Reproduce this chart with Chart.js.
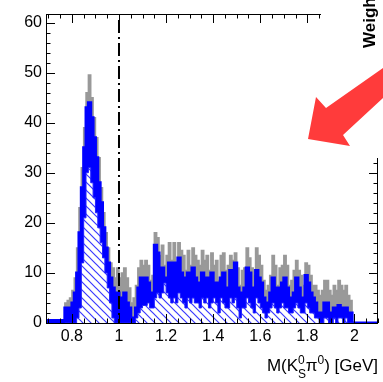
<!DOCTYPE html>
<html>
<head>
<meta charset="utf-8">
<script src="https://cdn.jsdelivr.net/npm/chart.js@4"></script>
<style>
  html, body { margin: 0; padding: 0; background: #fff; }
  #wrap { width: 383px; height: 382px; position: relative; }
</style>
</head>
<body>
<div id="wrap"><canvas id="myChart" width="383" height="382"></canvas></div>
<script>
// bins of 0.01 GeV starting at 0.77
const binLow = 0.77;
const binWidth = 0.01;

// gray: top histogram
const grayVals = [
  1, 4, 4.5, 5, 6.5, 9, 15, 23, 31, 39, 46, 49.5, 45, 41, 37, 33, 27, 22, 18, 15, 12, 11, 9,
  11, 9, 10, 11, 9, 7, 4, 5, 7.5, 11,
  12.5, 11.5, 12.5, 11.5, 8.5, 9.5, 18, 17, 13.5, 15.5,
  11.5, 13.5, 16, 12.5, 16, 11.5, 16, 14.5, 13.5, 10.5,
  14.5, 11.5, 15, 13.5, 12.5, 11.5, 14.5, 12.5, 13.5, 10.5,
  14, 11.5, 12.5, 8.5, 13.5, 14, 10.5, 11.5, 13.5, 12.5,
  14, 11, 7.5, 10.5, 11, 15, 13, 11, 9.5, 15,
  13.5, 11.5, 8.5, 6.5, 7.5, 9.5, 13.5, 11.5, 7.5, 11,
  11.5, 13.5, 11.5, 7.5, 8.5, 10.5, 12.5, 10.5, 9.5, 7.5,
  12, 11.5, 9.5, 7.5, 7.5, 6.5, 5.5, 6.5, 8.5, 8.5,
  6.5, 5.5, 7.5, 6.5, 8.5, 7.5, 6.5, 7.5, 5.5, 4.5
];
// blue: band top
const blueVals = [
  0.5, 3, 3, 3, 4, 6, 10, 18, 27, 35, 43, 44, 41, 37, 33, 28, 24, 19, 15, 12, 9, 7, 6,
  6, 4, 5, 6, 4, 3, 1, 1, 3, 7,
  9, 8, 9, 8, 5, 6, 15.5, 14, 10, 11,
  8, 9, 12, 8, 12, 7, 13, 10, 9, 6,
  10, 8, 11, 9, 8, 7, 10, 8, 9, 7,
  10, 8, 8, 5, 9, 10, 7, 7, 10.5, 8,
  12, 7, 3.5, 6, 7, 11, 10, 7, 6, 10.5,
  9, 8, 5, 3.5, 4, 6, 9, 7, 4, 7,
  8, 9, 7, 4, 5, 6, 9, 7, 5, 4,
  9.5, 8, 6, 5, 4, 2, 2, 2, 4, 4,
  2, 1, 3, 2, 3.5, 3, 3, 3, 2, 2
];
// hatched component
const hatchVals = [
  0, 0, 0, 0, 0, 0, 1, 3, 12, 21, 30, 31, 28, 25, 22, 19, 16, 13, 10, 7, 4, 1, 0,
  0, 0, 0, 0, 0, 0, 0, 0, 1, 2,
  3, 3.5, 3.5, 4, 3, 3, 5, 6, 5, 6,
  8, 6, 5, 4, 5, 4, 6, 5, 4, 3,
  5, 4, 5, 4, 4, 3, 5, 4, 5, 3,
  4, 5, 4, 2, 5, 4, 3, 3, 5, 4,
  5, 3, 1, 3, 3, 5, 4, 3, 2, 5,
  4, 3, 2, 1, 2, 3, 4, 3, 2, 3,
  4, 3, 3, 2, 2, 3, 4, 3, 2, 2,
  4, 3, 2, 2, 1, 1, 0, 0, 1, 1,
  0, 0, 1, 0, 1, 1, 0, 1, 0, 0
];

const yTicks = [0, 10, 20, 30, 40, 50, 60];
const xTicks = [0.8, 1.0, 1.2, 1.4, 1.6, 1.8, 2.0];
const xMin = 0.69, xMax = 2.1, yMax = 61.7;

function steps(vals, padLeft, padRight) {
  const pts = [];
  if (padLeft) pts.push({ x: xMin, y: 0 });
  for (let i = 0; i < vals.length; i++) {
    pts.push({ x: +(binLow + i * binWidth).toFixed(3), y: vals[i] });
  }
  const end = +(binLow + vals.length * binWidth).toFixed(3);
  pts.push({ x: end, y: 0 });
  if (padRight) pts.push({ x: xMax, y: 0 });
  return pts;
}

// hatch pattern
const pc = document.createElement('canvas');
pc.width = 8; pc.height = 8;
const px = pc.getContext('2d');
px.fillStyle = '#ffffff';
px.fillRect(0, 0, 8, 8);
px.strokeStyle = '#3a3aff';
px.lineWidth = 1.2;
px.beginPath();
px.moveTo(-1, -1); px.lineTo(9, 9);
px.moveTo(-1, 7); px.lineTo(1, 9);
px.moveTo(7, -1); px.lineTo(9, 1);
px.stroke();
const hatch = px.createPattern(pc, 'repeat');

const FONT = "'Liberation Sans', Arial, Helvetica, sans-serif";

const decor = {
  id: 'decor',
  afterDatasetsDraw(chart) {
    const ctx = chart.ctx;
    const xs = chart.scales.x, ys = chart.scales.y;
    const a = chart.chartArea;
    ctx.save();
    // dash-dot line at 1 GeV
    const x1 = xs.getPixelForValue(1.0);
    ctx.strokeStyle = '#000';
    ctx.lineWidth = 2;
    ctx.setLineDash([13, 4, 2, 4]);
    ctx.beginPath();
    ctx.moveTo(x1, a.top + 6);
    ctx.lineTo(x1, a.bottom);
    ctx.stroke();
    ctx.setLineDash([]);

    // frame
    ctx.lineWidth = 1;
    ctx.strokeRect(a.left + 0.5, a.top + 0.5, a.right - a.left - 1, a.bottom - a.top);

    // y ticks
    for (let v = 0; v <= 60; v += 2) {
      const y = Math.round(ys.getPixelForValue(v)) + 0.5;
      const len = v % 10 === 0 ? 9 : 4.5;
      ctx.beginPath();
      ctx.moveTo(a.left, y); ctx.lineTo(a.left + len, y);
      ctx.moveTo(a.right, y); ctx.lineTo(a.right - len, y);
      ctx.stroke();
    }
    // x ticks
    for (let i = 0; i <= 28; i++) {
      const v = 0.7 + i * 0.05;
      const x = Math.round(xs.getPixelForValue(v)) + 0.5;
      const major = Math.abs(v * 5 - Math.round(v * 5)) < 1e-6;
      const len = major ? 9 : 4.5;
      ctx.beginPath();
      ctx.moveTo(x, a.bottom); ctx.lineTo(x, a.bottom - len);
      ctx.moveTo(x, a.top); ctx.lineTo(x, a.top + len);
      ctx.stroke();
    }

    // overlapping panel in the corner
    ctx.fillStyle = '#fff';
    ctx.fillRect(321, 0, 62, 158);
    ctx.save();
    ctx.translate(375, 48);
    ctx.rotate(-Math.PI / 2);
    ctx.fillStyle = '#000';
    ctx.font = 'bold 17px ' + FONT;
    ctx.textBaseline = 'alphabetic';
    ctx.fillText('Weigh', 0, 0);
    ctx.restore();

    // red arrow
    ctx.fillStyle = '#ff3b3b';
    ctx.beginPath();
    ctx.moveTo(308, 139);
    ctx.lineTo(316, 97);
    ctx.lineTo(326, 108);
    ctx.lineTo(383, 68);
    ctx.lineTo(383, 98);
    ctx.lineTo(343, 135);
    ctx.lineTo(350, 146);
    ctx.closePath();
    ctx.fill();

    // axis title M(K_S^0 pi^0) [GeV]
    ctx.fillStyle = '#000';
    ctx.textBaseline = 'alphabetic';
    const big = '17px ' + FONT, small = '12px ' + FONT;
    const base = 371;
    const parts = [
      ['M(K', big, 0], ['0', small, -7, 'S'], ['π', big, 0], ['0', small, -7], [') [GeV]', big, 0]
    ];
    let w = 0;
    parts.forEach(p => { ctx.font = p[1]; w += ctx.measureText(p[0]).width + (p[3] ? 1 : 0); });
    let cx = 378 - w;
    parts.forEach(p => {
      ctx.font = p[1];
      ctx.fillText(p[0], cx, base + p[2]);
      if (p[3]) ctx.fillText(p[3], cx, base + 7);
      cx += ctx.measureText(p[0]).width + (p[3] ? 1 : 0);
    });
    ctx.restore();
  }
};

new Chart('myChart', {
  type: 'line',
  data: {
    datasets: [
      {
        data: steps(hatchVals, false, false),
        stepped: 'after',
        borderColor: '#2020ff',
        borderWidth: 1,
        backgroundColor: hatch,
        fill: 'origin',
        pointRadius: 0,
        order: 1
      },
      {
        data: steps(blueVals, true, true),
        stepped: 'after',
        borderColor: '#0000ff',
        borderWidth: 3,
        backgroundColor: '#0000ff',
        fill: 'origin',
        pointRadius: 0,
        order: 2
      },
      {
        data: steps(grayVals, false, false),
        stepped: 'after',
        borderColor: '#999999',
        borderWidth: 1.5,
        backgroundColor: '#999999',
        fill: 'origin',
        pointRadius: 0,
        order: 3
      }
    ]
  },
  options: {
    responsive: false,
    animation: false,
    layout: { padding: { left: 0, top: 14, right: 5, bottom: 0 } },
    plugins: { legend: { display: false }, tooltip: { enabled: false } },
    scales: {
      x: {
        type: 'linear',
        min: xMin, max: xMax,
        grid: { display: false, drawTicks: false },
        border: { display: false },
        afterBuildTicks: s => { s.ticks = xTicks.map(v => ({ value: v })); },
        afterFit: s => { s.height = 59; },
        ticks: {
          padding: 4,
          color: '#000',
          font: { family: FONT, size: 16 },
          maxRotation: 0,
          callback: v => String(+v.toFixed(1))
        }
      },
      y: {
        min: 0, max: yMax,
        grid: { display: false, drawTicks: false },
        border: { display: false },
        afterBuildTicks: s => { s.ticks = yTicks.map(v => ({ value: v })); },
        afterFit: s => { s.width = 46; },
        ticks: {
          padding: 4,
          color: '#000',
          font: { family: FONT, size: 16 }
        }
      }
    }
  },
  plugins: [decor]
});
</script>
</body>
</html>
